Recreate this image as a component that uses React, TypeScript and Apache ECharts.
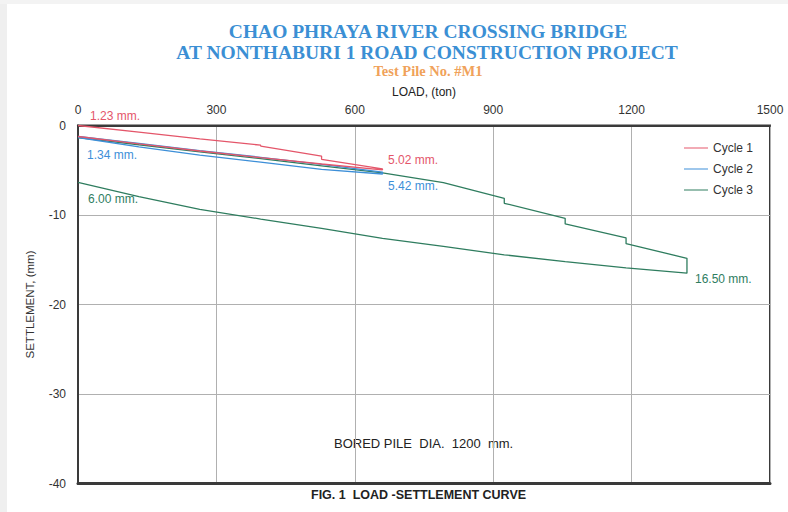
import React, { useEffect, useRef } from "react";
import * as echarts from "echarts";

// Load (ton), settlement (mm) pairs
const cycle1Load = [0, 132, 264, 396, 396, 528, 528, 660, 660, 528, 396, 264, 132, 0];
const cycle1Settle = [0, -0.75, -1.5, -2.2, -2.3, -3.42, -3.78, -4.85, -4.95, -4.3, -3.6, -2.85, -2.05, -1.23];

const cycle2Load = [0, 132, 264, 396, 528, 660, 660, 528, 396, 264, 132, 0];
const cycle2Settle = [-1.23, -2.0, -2.8, -3.55, -4.35, -5.2, -5.42, -4.9, -4.1, -3.3, -2.4, -1.34];

const cycle3Load = [0, 132, 264, 396, 528, 660, 792, 924, 924, 1056, 1056, 1188, 1188, 1320, 1320, 1188, 1056, 924, 792, 660, 528, 396, 264, 132, 0];
const cycle3Settle = [-1.34, -2.15, -2.95, -3.7, -4.5, -5.3, -6.39, -8.13, -8.69, -10.37, -11.0, -12.55, -13.2, -14.84, -16.5, -15.9, -15.2, -14.45, -13.5, -12.6, -11.5, -10.45, -9.37, -7.95, -6.35];

const seriesNames = ["Cycle 1", "Cycle 2", "Cycle 3"];
const seriesColors = ["#e4566a", "#3d8fd8", "#2f7d5f"];

const xTicks = { min: 0, max: 1500, interval: 300 };
const yTicks = { min: -40, max: 0, interval: 10 };

const zip = (xs: number[], ys: number[]) => xs.map((x, i) => [x, ys[i]]);

export default function App() {
  const ref = useRef<HTMLDivElement>(null);
  useEffect(() => {
    if (!ref.current) return;
    const chart = echarts.init(ref.current, null, { renderer: "svg" });
    const sans = "Liberation Sans, Arial, sans-serif";
    const serif = "Liberation Serif, Times New Roman, serif";
    const data = [zip(cycle1Load, cycle1Settle), zip(cycle2Load, cycle2Settle), zip(cycle3Load, cycle3Settle)];
    chart.setOption({
      animation: false,
      backgroundColor: "#ffffff",
      grid: {
        left: 78,
        right: 18,
        top: 125.5,
        bottom: 28.5,
        show: true,
        borderColor: "#3a3a3a",
        borderWidth: 2,
      },
      legend: {
        orient: "vertical",
        right: 30,
        top: 137,
        itemWidth: 24,
        itemHeight: 12,
        itemGap: 9,
        icon: "path://M0,5.5 L24,5.5 L24,6.5 L0,6.5 Z",
        textStyle: { fontFamily: sans, fontSize: 12, color: "#333" },
        data: seriesNames,
      },
      xAxis: [
        {
          type: "value",
          position: "top",
          min: xTicks.min,
          max: xTicks.max,
          interval: xTicks.interval,
          name: "LOAD, (ton)",
          nameLocation: "middle",
          nameGap: 28,
          nameTextStyle: { fontFamily: sans, fontSize: 12, color: "#222" },
          axisLine: { show: true, lineStyle: { color: "#3a3a3a", width: 2 } },
          axisTick: { show: false },
          axisLabel: { fontFamily: sans, fontSize: 12, color: "#333", margin: 10, formatter: (v: number) => String(v) },
          splitLine: { show: true, lineStyle: { color: "#b0b0b0", width: 1 } },
        },
        {
          type: "value",
          position: "bottom",
          min: xTicks.min,
          max: xTicks.max,
          interval: xTicks.interval,
          axisLine: { show: true, onZero: false, lineStyle: { color: "#3a3a3a", width: 3 } },
          axisTick: { show: false },
          axisLabel: { show: false },
          splitLine: { show: false },
        },
      ],
      yAxis: {
        type: "value",
        min: yTicks.min,
        max: yTicks.max,
        interval: yTicks.interval,
        name: "SETTLEMENT, (mm)",
        nameLocation: "middle",
        nameRotate: 90,
        nameGap: 42,
        nameTextStyle: { fontFamily: sans, fontSize: 11.5, color: "#333" },
        axisLine: { show: true, lineStyle: { color: "#3a3a3a", width: 2 } },
        axisTick: { show: false },
        axisLabel: { fontFamily: sans, fontSize: 12, color: "#333", margin: 12 },
        splitLine: { show: true, lineStyle: { color: "#b0b0b0", width: 1 } },
      },
      series: seriesNames.map((name, i) => ({
        name,
        type: "line",
        xAxisIndex: 0,
        data: data[i],
        showSymbol: false,
        symbol: "none",
        lineStyle: { color: seriesColors[i], width: 1.3 },
        itemStyle: { color: seriesColors[i] },
        z: 3 - i,
      })),
      graphic: [
        { type: "rect", shape: { x: 0, y: 0, width: 7, height: 512 }, style: { fill: "#efefef" }, silent: true },
        { type: "rect", shape: { x: 0, y: 0, width: 788, height: 4 }, style: { fill: "#f3f3f3" }, silent: true },
        {
          type: "text", x: 428, y: 31,
          style: { text: "CHAO PHRAYA RIVER CROSSING BRIDGE", font: `bold 19.5px ${serif}`, fill: "#3b8fd4", textAlign: "center", textVerticalAlign: "middle" },
        },
        {
          type: "text", x: 427, y: 52,
          style: { text: "AT NONTHABURI 1 ROAD CONSTRUCTION PROJECT", font: `bold 19.5px ${serif}`, fill: "#3b8fd4", textAlign: "center", textVerticalAlign: "middle" },
        },
        {
          type: "text", x: 428, y: 71,
          style: { text: "Test Pile No. #M1", font: `bold 14.5px ${serif}`, fill: "#f0a25a", textAlign: "center", textVerticalAlign: "middle" },
        },
        { type: "text", x: 90, y: 110, style: { text: "1.23 mm.", font: `12px ${sans}`, fill: seriesColors[0] } },
        { type: "text", x: 87, y: 149, style: { text: "1.34 mm.", font: `12px ${sans}`, fill: seriesColors[1] } },
        { type: "text", x: 88, y: 193, style: { text: "6.00 mm.", font: `12px ${sans}`, fill: seriesColors[2] } },
        { type: "text", x: 388, y: 154, style: { text: "5.02 mm.", font: `12px ${sans}`, fill: seriesColors[0] } },
        { type: "text", x: 388, y: 180, style: { text: "5.42 mm.", font: `12px ${sans}`, fill: seriesColors[1] } },
        { type: "text", x: 695, y: 273, style: { text: "16.50 mm.", font: `12px ${sans}`, fill: seriesColors[2] } },
        { type: "text", x: 334, y: 437, style: { text: "BORED PILE  DIA.  1200  mm.", font: `13px ${sans}`, fill: "#222" } },
        { type: "text", x: 311, y: 488, style: { text: "FIG. 1  LOAD -SETTLEMENT CURVE", font: `bold 12.5px ${sans}`, fill: "#222" } },
      ],
    });
    return () => chart.dispose();
  }, []);
  return (
    <div
      ref={ref}
      style={{ position: "fixed", left: 0, top: 0, width: 788, height: 512 }}
    />
  );
}
